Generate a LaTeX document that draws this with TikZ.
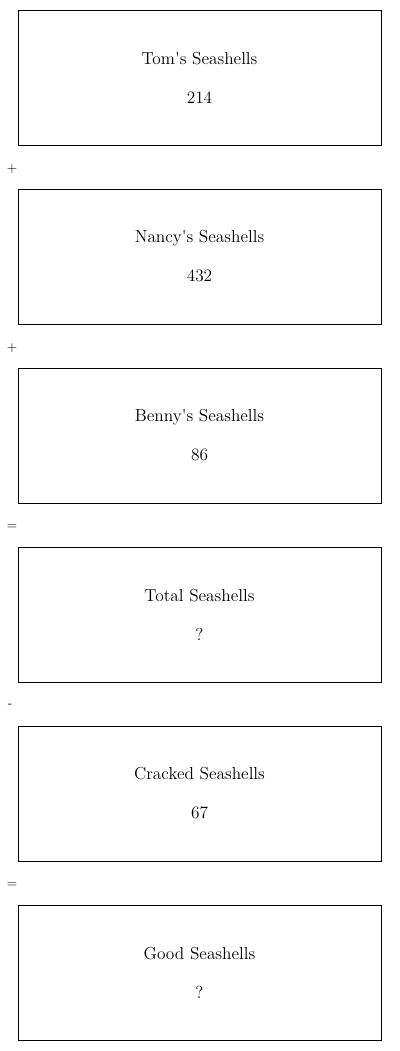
\documentclass[tikz,border=0pt]{standalone}
\usepackage{tikz}
\tikzset{
  shell/.style={draw=black,line width=0.75pt,minimum width=272.25pt,minimum height=101.25pt,inner sep=0pt,align=center,font=\fontsize{13}{15.6}\selectfont},
  op/.style={font=\normalsize,inner sep=0pt},
}
\newcommand{\twoline}[2]{\raisebox{-0.75pt}{#1}\\[13.6pt]\raisebox{-0.75pt}{#2}}

\begin{document}
\begin{tikzpicture}[x=0.75pt,y=-0.75pt]
\useasboundingbox (0,0) rectangle (400,1051);
\node[shell] (tom) at (199.5,77.5) {\twoline{Tom\textquotesingle s Seashells}{214}};
\node[op] (p1) at (12,169) {+};
\node[shell] (nancy) at (199.5,256.5) {\twoline{Nancy\textquotesingle s Seashells}{432}};
\node[op] (p2) at (12,348) {+};
\node[shell] (benny) at (199.5,435.5) {\twoline{Benny\textquotesingle s Seashells}{86}};
\node[op] (eq1) at (12,527) {=};
\node[shell] (total) at (199.5,614.5) {\twoline{Total Seashells}{?}};
\node[op] (minus) at (10,706) {-};
\node[shell] (cracked) at (199.5,793.5) {\twoline{Cracked Seashells}{67}};
\node[op] (eq2) at (12,885) {=};
\node[shell] (good) at (199.5,972.5) {\twoline{Good Seashells}{?}};
\end{tikzpicture}
\end{document}
